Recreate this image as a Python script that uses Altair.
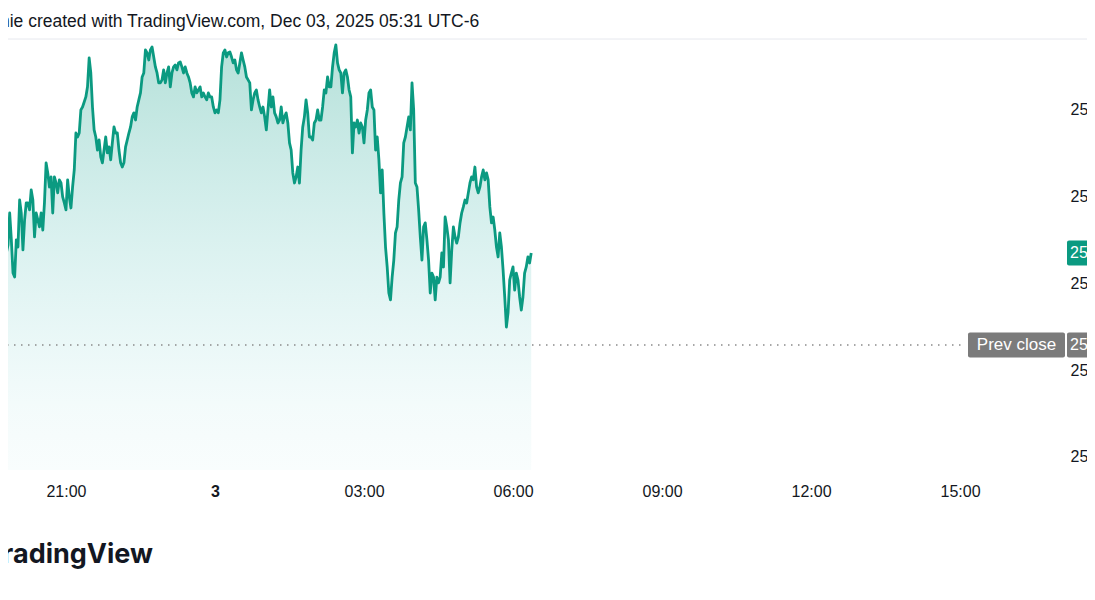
import altair as alt
import pandas as pd

# ---- data ----
start_time = "2025-12-02 19:42"   # first visible sample (UTC-6 session clock)
step = "2min"

prices_a = [25503.0, 25515.7, 25556.0, 25567.6, 25572.2, 25590.6, 25575.1, 25556.0, 25553.7, 25575.1,
            25571.0, 25598.1, 25590.6, 25569.3, 25586.6, 25596.4, 25596.4, 25592.4, 25603.9, 25598.1,
            25576.8, 25590.6, 25586.6, 25582.6, 25590.6, 25580.8, 25596.4, 25619.5, 25613.7, 25605.6,
            25611.4, 25590.6, 25611.4, 25607.9, 25602.2, 25609.7, 25607.9, 25599.9, 25596.4, 25592.4,
            25609.7, 25599.9, 25593.5, 25605.6, 25615.4, 25636.7, 25634.4, 25636.7, 25650.0, 25651.7,
            25654.6, 25657.5, 25663.3, 25680.0]
prices_b = [25671.3, 25651.7, 25638.5, 25634.4, 25626.9, 25632.7, 25622.9, 25619.5, 25626.9, 25634.4,
            25625.2, 25628.7, 25621.2, 25631.0, 25640.2, 25636.7, 25636.7, 25626.9, 25619.5, 25617.1,
            25619.5, 25628.7, 25632.7, 25636.7, 25640.2, 25646.0, 25648.3, 25644.2, 25651.7, 25655.8,
            25659.8, 25669.0, 25671.3, 25684.6, 25682.9, 25678.8, 25684.6, 25686.3, 25680.5, 25674.8,
            25671.3, 25665.6, 25665.6, 25667.3, 25673.1, 25665.6, 25671.3, 25674.8, 25663.3, 25671.3,
            25674.8, 25675.9, 25673.1, 25677.1]
prices_c = [25677.7, 25674.8, 25671.3, 25674.8, 25671.3, 25669.0, 25665.6, 25659.8, 25657.5, 25663.3,
            25659.8, 25661.5, 25663.3, 25657.5, 25659.8, 25657.5, 25655.8, 25659.8, 25657.5, 25657.5,
            25651.7, 25648.3, 25650.0, 25648.3, 25655.8, 25674.8, 25682.9, 25684.6, 25680.5, 25682.9,
            25683.4, 25680.5, 25677.1, 25678.8, 25673.1, 25671.3, 25677.1, 25682.9, 25678.8, 25674.8,
            25669.0, 25667.3, 25665.6, 25650.0, 25655.8, 25659.8, 25661.5, 25655.8, 25651.7, 25648.3,
            25651.7, 25646.0, 25638.5]
prices_d = [25650.0, 25661.5, 25651.7, 25657.5, 25648.3, 25646.0, 25642.5, 25644.2, 25651.7, 25642.5,
            25646.0, 25648.3, 25642.5, 25631.0, 25626.9, 25613.7, 25607.9, 25611.4, 25617.1, 25607.9,
            25626.9, 25640.2, 25646.0, 25655.8, 25648.3, 25634.4, 25634.4, 25632.7, 25642.5, 25644.2,
            25650.0, 25644.2, 25644.2, 25651.7, 25661.5, 25659.8, 25669.0, 25663.3, 25663.3, 25674.8,
            25682.9, 25687.5, 25677.1, 25673.1, 25671.3, 25659.8, 25671.3, 25673.1, 25669.0, 25661.5,
            25657.5, 25625.2, 25642.5]
prices_e = [25640.2, 25644.2, 25636.7, 25642.5, 25640.2, 25631.0, 25644.2, 25650.0, 25659.8, 25661.5,
            25651.7, 25650.0, 25626.9, 25634.4, 25621.2, 25602.2, 25615.4, 25590.6, 25571.0, 25559.5,
            25544.5, 25540.5, 25553.7, 25563.5, 25579.1, 25582.6, 25598.1, 25607.9, 25611.4, 25631.0,
            25634.4, 25640.2, 25646.0, 25638.5, 25665.6, 25650.0, 25607.9, 25605.6, 25592.4, 25576.8,
            25563.5, 25582.6, 25584.9, 25575.1, 25563.5, 25544.5, 25556.0, 25553.7, 25540.5, 25553.7,
            25550.3, 25553.7, 25567.6]
prices_f = [25559.5, 25588.3, 25582.6, 25575.1, 25550.3, 25569.3, 25582.6, 25576.8, 25573.3, 25576.8,
            25584.9, 25590.6, 25594.1, 25598.1, 25596.4, 25602.2, 25607.9, 25611.4, 25609.7, 25617.1,
            25605.6, 25602.2, 25605.6, 25611.4, 25615.4, 25609.7, 25613.7, 25609.7, 25594.1, 25584.9,
            25588.3, 25580.8, 25571.0, 25565.3, 25579.1, 25571.0, 25557.8, 25542.2, 25524.9, 25533.0,
            25552.0, 25556.0, 25559.5, 25546.2, 25556.0, 25552.0, 25542.2, 25534.7, 25542.2, 25556.0,
            25559.5, 25565.3, 25561.8, 25567.6]

prev_close = 25514.5
y_ticks = [25450, 25500, 25550, 25600, 25650]
y_domain = [25442.5, 25690.3]
# tick times: (day of Dec, hour)
x_ticks = [(2, 21), (3, 0), (3, 3), (3, 6), (3, 9), (3, 12), (3, 15)]
x_domain = [(2, 19, 40, 18), (3, 17, 6, 47)]

header_text = "nie created with TradingView.com, Dec 03, 2025 05:31 UTC-6"
logo_text = "TradingView"
prev_label = "Prev close"

# ---- build table ----
prices = prices_a + prices_b + prices_c + prices_d + prices_e + prices_f
times = pd.date_range(start_time, periods=len(prices), freq=step).strftime("%Y-%m-%dT%H:%M:00Z").tolist()
df = pd.DataFrame({"time": times, "price": prices})

GREEN = "#0b9a81"
GRAY = "#7b7b7b"
TXT = "#131722"
FONT = "Liberation Sans"
LABEL_X = 1070


def dt(d, h, m=0, s=0):
    return alt.DateTime(year=2025, month=12, date=d, hours=h, minutes=m, seconds=s, utc=True)


xscale = alt.Scale(type="utc", domain=[dt(*x_domain[0]), dt(*x_domain[1])])
yscale = alt.Scale(domain=y_domain, zero=False, nice=False)

xaxis = alt.Axis(
    values=[dt(d, h) for d, h in x_ticks],
    labelExpr="utchours(datum.value) == 0 ? utcFormat(datum.value, '%-d') : utcFormat(datum.value, '%H:%M')",
    labelFontWeight={"condition": {"test": "utchours(datum.value) == 0", "value": "bold"}, "value": "normal"},
    title=None, grid=False, domain=False, ticks=False, tickSize=0,
    labelPadding=13, labelFontSize=16, labelColor=TXT, labelFont=FONT,
    labelOverlap=False, labelFlush=False,
)
yaxis = alt.Axis(
    orient="right", values=y_ticks, format=",.2f", title=None, grid=False, domain=False,
    ticks=False, tickSize=0, labelPadding=LABEL_X - 1065, labelFontSize=16, labelColor=TXT,
    labelFont=FONT, labelAlign="left", labelLimit=0,
)

base = alt.Chart(df).encode(
    x=alt.X("time:T", scale=xscale, axis=xaxis),
    y=alt.Y("price:Q", scale=yscale, axis=yaxis),
)

area = base.mark_area(
    clip=True,
    color=alt.Gradient(
        gradient="linear",
        stops=[
            alt.GradientStop(color="rgba(11,154,129,0.30)", offset=0),
            alt.GradientStop(color="rgba(60,190,190,0.06)", offset=0.85),
            alt.GradientStop(color="rgba(60,190,190,0.03)", offset=1),
        ],
        x1=1, x2=1, y1=0, y2=1,
    ),
).encode(y2=alt.datum(y_domain[0]))

line = base.mark_line(clip=True, color=GREEN, strokeWidth=2.8, strokeJoin="round")

pc = alt.Chart(pd.DataFrame({"price": [prev_close], "label": [prev_label]}))
pc_rule = pc.mark_rule(color="#8a8a8a", strokeWidth=1.5, strokeDash=[1.5, 5.5]).encode(
    y=alt.Y("price:Q", scale=yscale), x=alt.value(0), x2=alt.value(965)
)
pc_box = pc.mark_rect(color=GRAY, cornerRadius=2, yOffset=-12.5, y2Offset=12.5).encode(
    y=alt.Y("price:Q", scale=yscale), y2="price:Q", x=alt.value(968), x2=alt.value(1065)
)
pc_text = pc.mark_text(color="white", fontSize=17, font=FONT, align="center", baseline="middle").encode(
    y=alt.Y("price:Q", scale=yscale), x=alt.value(1016.5), text="label:N"
)
pc_pbox = pc.mark_rect(color=GRAY, cornerRadius=2, yOffset=-12.5, y2Offset=12.5).encode(
    y=alt.Y("price:Q", scale=yscale), y2="price:Q", x=alt.value(1067), x2=alt.value(1110)
)
pc_ptext = pc.mark_text(color="white", fontSize=16, font=FONT, align="left", baseline="middle").encode(
    y=alt.Y("price:Q", scale=yscale), x=alt.value(LABEL_X), text=alt.Text("price:Q", format=",.2f")
)

last = alt.Chart(pd.DataFrame({"price": [prices[-1]]}))
last_box = last.mark_rect(color=GREEN, cornerRadius=2, yOffset=-12.5, y2Offset=12.5).encode(
    y=alt.Y("price:Q", scale=yscale), y2="price:Q", x=alt.value(1067), x2=alt.value(1110)
)
last_text = last.mark_text(color="white", fontSize=16, font=FONT, align="left", baseline="middle").encode(
    y=alt.Y("price:Q", scale=yscale), x=alt.value(LABEL_X), text=alt.Text("price:Q", format=",.2f")
)

deco = alt.Chart(pd.DataFrame({"h": [header_text], "l": [logo_text]}))
header = deco.mark_text(color=TXT, fontSize=17.5, font=FONT, align="left", baseline="middle").encode(
    x=alt.value(0), y=alt.value(-18), text="h:N"
)
header_rule = deco.mark_rule(color="#e6e8ee", strokeWidth=1).encode(
    x=alt.value(0), x2=alt.value(1100), y=alt.value(-1)
)
logo = deco.mark_text(color="#131722", fontSize=27, font="Inter", fontWeight=700,
                      align="right", baseline="middle").encode(
    x=alt.value(153), y=alt.value(515), text="l:N"
)

# SVG must stay within 1079 x 584 so the page does not overflow the 1095 x 600 window
chart = alt.layer(
    area, line, pc_rule, pc_box, pc_text, pc_pbox, pc_ptext, last_box, last_text,
    header_rule, header, logo,
).properties(
    width=1065, height=430,
    padding={"left": -8, "top": 32, "right": 22, "bottom": 122},
    autosize=alt.AutoSizeParams(type="none"),
    background="white",
).configure_view(strokeWidth=0, stroke="transparent")

chart.save("out.html", embed_options={"renderer": "svg", "actions": False})
